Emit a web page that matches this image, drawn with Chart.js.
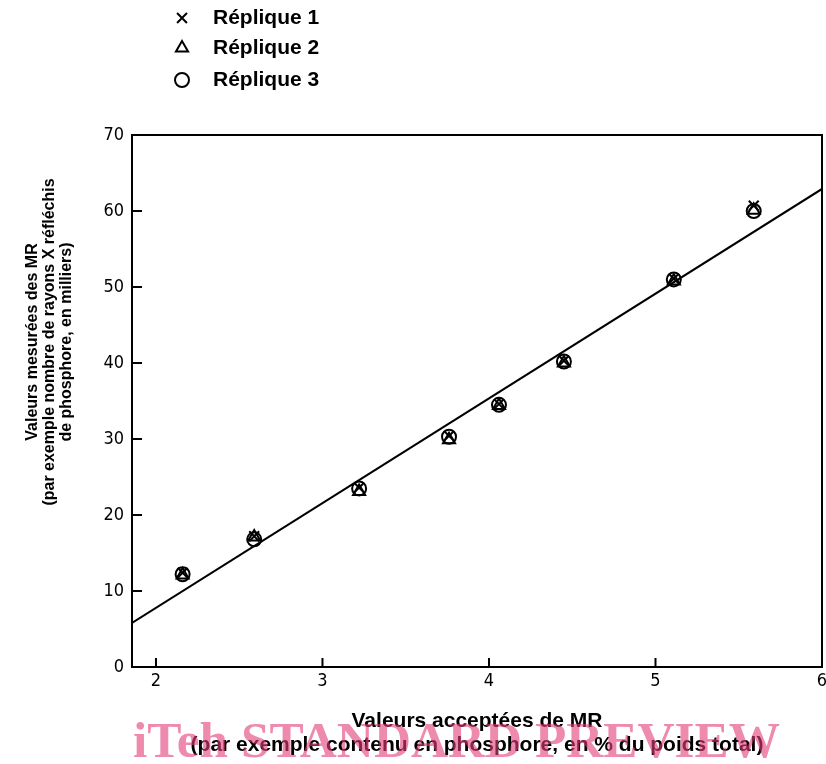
<!DOCTYPE html>
<html>
<head>
<meta charset="utf-8">
<script src="https://cdn.jsdelivr.net/npm/chart.js@4.4.1/dist/chart.umd.min.js"></script>
<style>
  html, body { margin: 0; padding: 0; background: #fff; overflow: hidden; }
  canvas { display: block; }
</style>
</head>
<body>
<canvas id="myChart" width="826" height="764"></canvas>
<script>
// data
var seriesNames = ["Réplique 1", "Réplique 2", "Réplique 3"];
var pointStyles = ["crossRot", "triangle", "circle"];
var acceptedMR = [2.16, 2.59, 3.22, 3.76, 4.06, 4.45, 5.11, 5.59];
var replique1 = [12.4, 17.2, 23.6, 30.4, 34.6, 40.3, 51.1, 60.7];
var replique2 = [12.1, 17.1, 23.1, 29.9, 34.4, 40.0, 50.8, 60.1];
var replique3 = [12.2, 16.8, 23.5, 30.3, 34.5, 40.2, 51.0, 60.0];
var fitX = [1.856, 6];
var fitY = [5.8, 62.9];
var xTicks = [2, 3, 4, 5, 6];
var yTicks = [0, 10, 20, 30, 40, 50, 60, 70];
var xTitle = ["Valeurs acceptées de MR", "(par exemple contenu en phosphore, en % du poids total)"];
var yTitle = ["Valeurs mesurées des MR", "(par exemple nombre de rayons X réfléchis", "de phosphore, en milliers)"];
var watermark = "iTeh STANDARD PREVIEW";

var labelFont = '"Liberation Sans", Arial, sans-serif';
var tickFont = '"DejaVu Sans Condensed", "Liberation Sans Narrow", "Liberation Sans", sans-serif';

function toPoints(xs, ys) {
  return xs.map(function (x, i) { return { x: x, y: ys[i] }; });
}

var seriesValues = [replique1, replique2, replique3];
var datasets = seriesValues.map(function (vals, i) {
  return {
    label: seriesNames[i],
    data: toPoints(acceptedMR, vals),
    pointStyle: pointStyles[i],
    pointRadius: 7,
    pointBorderWidth: 2,
    pointBorderColor: '#000',
    pointBackgroundColor: 'rgba(0,0,0,0)',
    showLine: false
  };
});
datasets.push({
  label: 'fit',
  data: toPoints(fitX, fitY),
  showLine: true,
  borderColor: '#000',
  borderWidth: 2,
  pointRadius: 0
});

// plot frame ends 4px from the right edge, like the original
var fixArea = {
  id: 'fixArea',
  afterLayout: function (chart) {
    var a = chart.chartArea;
    var xs = chart.scales.x;
    var right = chart.width - 4;
    if (a.right !== right) {
      a.right = right;
      a.width = a.right - a.left;
      xs.right = right;
      xs.width = xs.right - xs.left;
      xs.configure();
    }
  }
};

var decor = {
  id: 'decor',
  afterDraw: function (chart) {
    var ctx = chart.ctx;
    var a = chart.chartArea;
    var xs = chart.scales.x, ys = chart.scales.y;
    ctx.save();
    // frame
    ctx.strokeStyle = '#000';
    ctx.lineWidth = 2;
    ctx.strokeRect(a.left, a.top, a.right - a.left, a.bottom - a.top);
    // inward tick marks
    ctx.beginPath();
    yTicks.forEach(function (v) {
      var py = ys.getPixelForValue(v);
      ctx.moveTo(a.left, py); ctx.lineTo(a.left + 10, py);
    });
    xTicks.forEach(function (v) {
      var px = xs.getPixelForValue(v);
      ctx.moveTo(px, a.bottom); ctx.lineTo(px, a.bottom - 9);
    });
    ctx.stroke();

    // x tick labels
    ctx.fillStyle = '#000';
    ctx.textAlign = 'center';
    ctx.textBaseline = 'middle';
    ctx.font = '18px ' + tickFont;
    xTicks.forEach(function (v) {
      ctx.fillText(String(v), xs.getPixelForValue(v), a.bottom + 14);
    });

    // x title
    ctx.font = 'bold 21px ' + labelFont;
    var cx = (a.left + a.right) / 2;
    ctx.fillText(xTitle[0], cx, 721);
    ctx.fillText(xTitle[1], cx, 745);

    // y title
    ctx.save();
    ctx.translate(0, 342);
    ctx.rotate(-Math.PI / 2);
    ctx.font = 'bold 16px ' + labelFont;
    ctx.fillText(yTitle[0], 0, 33);
    ctx.fillText(yTitle[1], 0, 50);
    ctx.fillText(yTitle[2], 0, 67);
    ctx.restore();

    // legend
    ctx.textAlign = 'left';
    ctx.font = 'bold 21px ' + labelFont;
    var ly = [18, 48, 80];
    seriesNames.forEach(function (name, i) {
      ctx.lineWidth = 2;
      ctx.strokeStyle = '#000';
      ctx.fillStyle = 'rgba(0,0,0,0)';
      Chart.helpers.drawPoint(ctx, {
        pointStyle: pointStyles[i], radius: 7, borderWidth: 2, rotation: 0
      }, 182, ly[i]);
      ctx.fillStyle = '#000';
      ctx.fillText(name, 213, ly[i]);
    });

    // watermark
    ctx.font = 'bold 40px "Liberation Serif", "Times New Roman", serif';
    var w = ctx.measureText(watermark).width;
    var size = 40 * 647 / w;
    ctx.font = 'bold ' + size.toFixed(1) + 'px "Liberation Serif", "Times New Roman", serif';
    ctx.textBaseline = 'alphabetic';
    ctx.fillStyle = 'rgba(225, 60, 120, 0.6)';
    ctx.fillText(watermark, 133, 757);
    ctx.restore();
  }
};

new Chart('myChart', {
  type: 'scatter',
  data: { datasets: datasets },
  options: {
    responsive: false,
    animation: false,
    devicePixelRatio: 1,
    layout: { padding: { top: 135, right: 4, bottom: 0, left: 0 } },
    plugins: {
      legend: { display: false },
      tooltip: { enabled: false }
    },
    scales: {
      x: {
        type: 'linear',
        min: 1.856,
        max: 6,
        afterBuildTicks: function (s) { s.ticks = xTicks.map(function (v) { return { value: v }; }); },
        afterFit: function (s) { s.height = 97; },
        grid: { display: false, tickLength: 0 },
        border: { display: false },
        ticks: { display: false }
      },
      y: {
        min: 0,
        max: 70,
        afterBuildTicks: function (s) { s.ticks = yTicks.map(function (v) { return { value: v }; }); },
        afterFit: function (s) { s.width = 132; },
        grid: { display: false, tickLength: 0 },
        border: { display: false },
        ticks: { color: '#000', padding: 8, font: { family: tickFont, size: 18 } }
      }
    }
  },
  plugins: [fixArea, decor]
});
</script>
</body>
</html>
